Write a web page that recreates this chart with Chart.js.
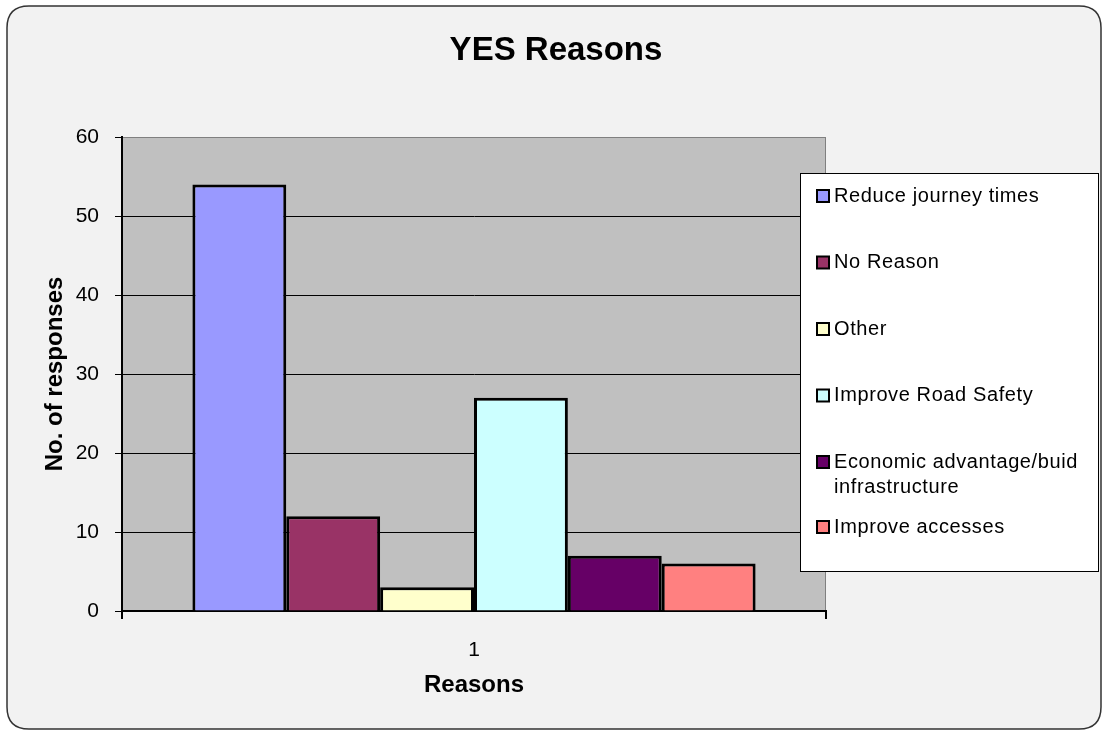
<!DOCTYPE html>
<html>
<head>
<meta charset="utf-8">
<script src="https://cdn.jsdelivr.net/npm/chart.js@4/dist/chart.umd.min.js"></script>
<style>
    html, body { margin: 0; padding: 0; background: #ffffff; }
    #wrap { width: 1109px; height: 733px; position: relative; }
</style>
</head>
<body>
<div id="wrap"><canvas id="reasonsChart"></canvas></div>
<script>
// chart values
const chartTitle = 'YES Reasons';
const categories = ['1'];
const reasonNames = ['Reduce journey times', 'No Reason', 'Other', 'Improve Road Safety', 'Economic advantage/buid infrastructure', 'Improve accesses'];
const reasonCounts = [54, 12, 3, 27, 7, 6];
const reasonColors = ['#9999FF', '#993366', '#FFFFCC', '#CCFFFF', '#660066', '#FF8080'];
const yTicks = [0, 10, 20, 30, 40, 50, 60];

const FONT = 'Arial, "Liberation Sans", sans-serif';

// _+_+_+_ background frame + grey plot area _+_+_+_
const framePlugin = {
    id: 'frame',
    beforeDraw(chart) {
        const ctx = chart.ctx;
        const { left, top, right, bottom } = chart.chartArea;
        ctx.save();
        ctx.fillStyle = '#ffffff';
        ctx.fillRect(0, 0, chart.width, chart.height);

        // rounded outer box
        const x = 7, y = 6, w = 1094, h = 723, r = 22;
        ctx.beginPath();
        ctx.moveTo(x + r, y);
        ctx.lineTo(x + w - r, y);
        ctx.quadraticCurveTo(x + w, y, x + w, y + r);
        ctx.lineTo(x + w, y + h - r);
        ctx.quadraticCurveTo(x + w, y + h, x + w - r, y + h);
        ctx.lineTo(x + r, y + h);
        ctx.quadraticCurveTo(x, y + h, x, y + h - r);
        ctx.lineTo(x, y + r);
        ctx.quadraticCurveTo(x, y, x + r, y);
        ctx.closePath();
        ctx.fillStyle = '#F2F2F2';
        ctx.fill();
        ctx.lineWidth = 1.5;
        ctx.strokeStyle = '#333333';
        ctx.stroke();

        // plot area
        ctx.fillStyle = '#C0C0C0';
        ctx.fillRect(left, top, right - left, bottom - top);
        ctx.lineWidth = 1;
        ctx.strokeStyle = '#808080';
        ctx.strokeRect(left + 0.5, top + 0.5, right - left - 1, bottom - top);
        ctx.restore();
    }
};

// _+_+_+_ title centred on the whole picture + legend box over the plot _+_+_+_
const boxLegendPlugin = {
    id: 'boxLegend',
    afterDraw(chart) {
        const ctx = chart.ctx;
        ctx.save();

        // title
        ctx.fillStyle = '#000000';
        ctx.font = 'bold 33px ' + FONT;
        ctx.textAlign = 'center';
        ctx.textBaseline = 'middle';
        ctx.fillText(chartTitle, 556, 51);

        const bx = 800, by = 173, bw = 299, bh = 399;
        ctx.fillStyle = '#ffffff';
        ctx.fillRect(bx, by, bw, bh);
        ctx.lineWidth = 1;
        ctx.strokeStyle = '#000000';
        ctx.strokeRect(bx + 0.5, by + 0.5, bw - 1, bh - 1);

        ctx.font = '20px ' + FONT;
        ctx.letterSpacing = '0.6px';
        ctx.textBaseline = 'middle';
        ctx.textAlign = 'left';
        const maxTextW = 262;
        let rowY = 196;

        chart.data.datasets.forEach((ds, i) => {
            // square marker
            ctx.fillStyle = ds.backgroundColor;
            ctx.fillRect(817, rowY - 6, 12, 12);
            ctx.lineWidth = 2;
            ctx.strokeStyle = '#000000';
            ctx.strokeRect(817, rowY - 6, 12, 12);

            // wrap long labels
            const words = ds.label.split(' ');
            const lines = [];
            let line = '';
            words.forEach(word => {
                const test = line ? line + ' ' + word : word;
                if (ctx.measureText(test).width > maxTextW && line) {
                    lines.push(line);
                    line = word;
                } else {
                    line = test;
                }
            });
            lines.push(line);

            ctx.fillStyle = '#000000';
            lines.forEach((l, j) => ctx.fillText(l, 834, rowY + j * 25));
            rowY += i === 4 ? 65 : 66.5;
        });
        ctx.restore();
    }
};

const datasets = reasonNames.map((name, i) => ({
    label: name,
    data: [reasonCounts[i]],
    backgroundColor: reasonColors[i],
    borderColor: '#000000',
    borderWidth: 3,
    categoryPercentage: 0.8,
    barPercentage: 1.0
}));

new Chart(document.getElementById('reasonsChart'), {
    type: 'bar',
    data: {
        labels: categories,
        datasets: datasets
    },
    options: {
        responsive: true,
        maintainAspectRatio: false,
        animation: false,
        layout: {
            padding: { left: 20, right: 283, top: 137, bottom: 0 }
        },
        plugins: {
            legend: { display: false },
            tooltip: { enabled: false },
            title: { display: false }
        },
        scales: {
            x: {
                afterFit(scale) { scale.height = 122; },
                grid: {
                    display: true,
                    offset: true,
                    drawOnChartArea: false,
                    tickLength: 8,
                    color: '#000000',
                    lineWidth: 2
                },
                border: { display: true, color: '#000000', width: 2 },
                ticks: {
                    color: '#000000',
                    font: { family: FONT, size: 21 },
                    padding: 19
                },
                title: {
                    display: true,
                    text: 'Reasons',
                    color: '#000000',
                    font: { family: FONT, size: 24, weight: 'bold' },
                    padding: { top: 0, bottom: 33 }
                }
            },
            y: {
                min: 0,
                max: 60,
                afterFit(scale) { scale.width = 102; },
                afterBuildTicks(scale) {
                    scale.ticks = yTicks.map(v => ({ value: v }));
                },
                grid: {
                    color: ctx => (ctx.tick && ctx.tick.value === 60) ? 'rgba(0,0,0,0)' : '#000000',
                    lineWidth: 1,
                    tickColor: '#000000',
                    tickLength: 7
                },
                border: { display: true, color: '#000000', width: 2 },
                ticks: {
                    color: '#000000',
                    font: { family: FONT, size: 21 },
                    padding: 16
                },
                title: {
                    display: true,
                    text: 'No. of responses',
                    color: '#000000',
                    font: { family: FONT, size: 24, weight: 'bold' },
                    padding: { top: 21, bottom: 0 }
                }
            }
        }
    },
    plugins: [framePlugin, boxLegendPlugin]
});
</script>
</body>
</html>
